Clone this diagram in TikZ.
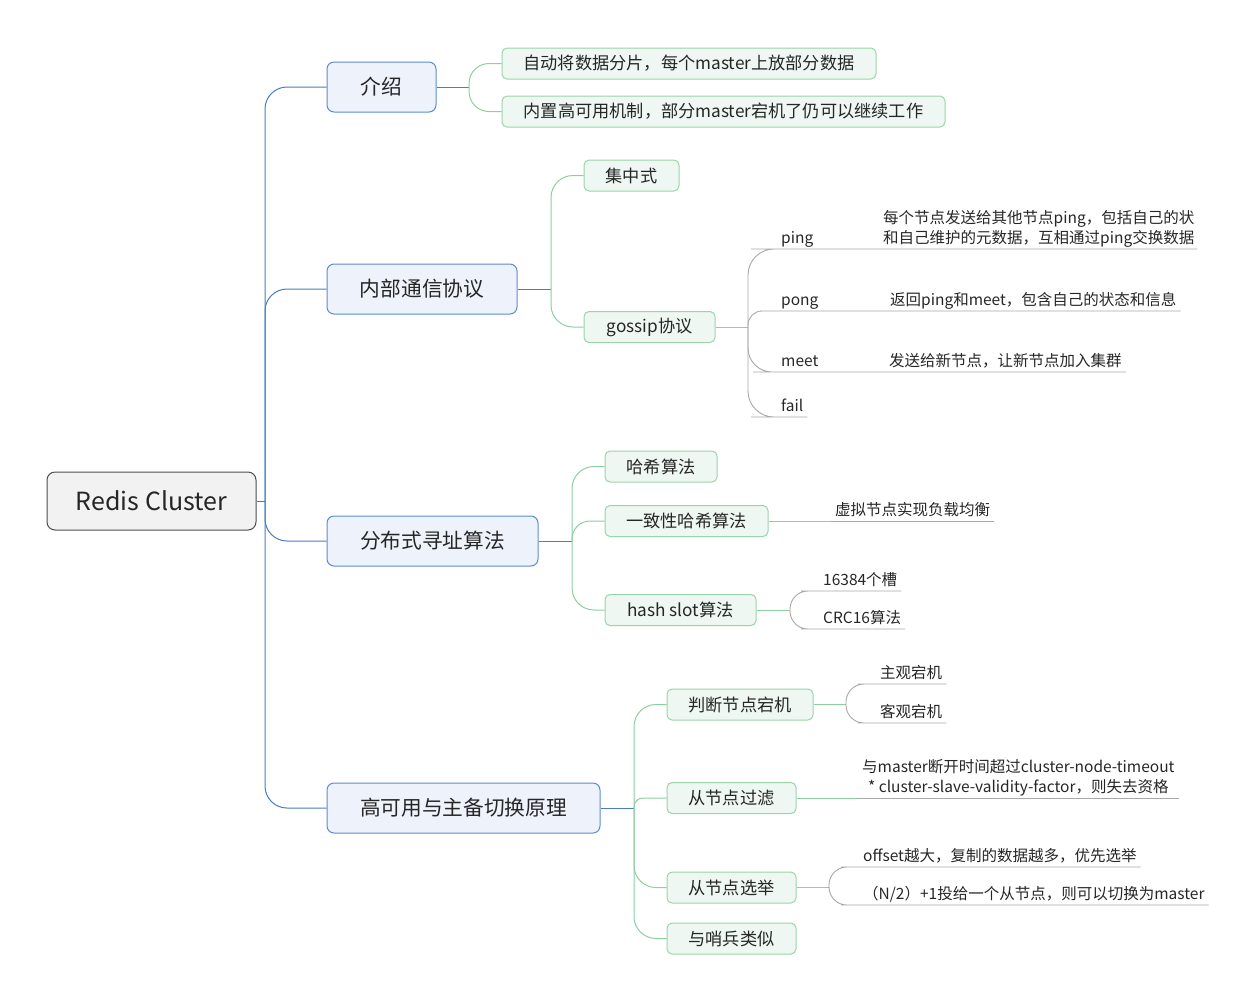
\documentclass[tikz,border=0pt]{standalone}
\usepackage{fontspec}
\setmainfont{Noto Sans CJK SC}
\definecolor{bline}{HTML}{4A7CC0}
\definecolor{bfill}{HTML}{EEF3FB}
\definecolor{bdraw}{HTML}{5B8BD0}
\definecolor{gline}{HTML}{8CCFA0}
\definecolor{gfill}{HTML}{EEF7F1}
\definecolor{gdraw}{HTML}{9AD5AA}
\definecolor{lline}{HTML}{A8A8A8}
\definecolor{rfill}{HTML}{F2F2F2}
\definecolor{rdraw}{HTML}{4D4D4D}
\definecolor{txt}{HTML}{262626}
\tikzset{
  rootbox/.style={draw=rdraw, fill=rfill, rounded corners=8pt, line width=1pt, minimum width=209pt, minimum height=58pt, font=\fontsize{25}{30}\selectfont, text=txt, inner sep=0pt},
  lonebox/.style={draw=bdraw, fill=bfill, rounded corners=7pt, line width=1pt, minimum height=50pt, font=\fontsize{20.7}{24}\selectfont, text=txt, inner sep=0pt},
  ltwobox/.style={draw=gdraw, fill=gfill, rounded corners=5pt, line width=1pt, minimum height=31pt, font=\fontsize{17.2}{20}\selectfont, text=txt, inner sep=0pt},
  leaf/.style={anchor=south west, inner xsep=4pt, inner ysep=3pt, text depth=2pt, font=\fontsize{15.5}{20}\selectfont, text=txt},
  bconn/.style={draw=bline, line width=1pt},
  gconn/.style={draw=gline, line width=1pt},
  lconn/.style={draw=lline, line width=0.9pt}
}
\begin{document}
\begin{tikzpicture}[x=1pt,y=-1pt]
\path[use as bounding box] (0,0) rectangle (1259,1002);

% root and level 1
\node[rootbox] (root) at (151.5,501) {Redis Cluster};
\node[lonebox, minimum width=109pt] (intro) at (381.5,87) {介绍};
\node[lonebox, minimum width=190pt] (comm) at (422,289) {内部通信协议};
\node[lonebox, minimum width=211pt] (dist) at (432.5,541) {分布式寻址算法};
\node[lonebox, minimum width=273pt] (ha) at (463.5,808) {高可用与主备切换原理};

% intro children
\node[ltwobox, minimum width=374pt] (i1) at (689,63.5) {自动将数据分片，每个master上放部分数据};
\node[ltwobox, minimum width=443pt] (i2) at (723.5,111.5) {内置高可用机制，部分master宕机了仍可以继续工作};

% comm children
\node[ltwobox, minimum width=95pt] (c1) at (631.5,175.5) {集中式};
\node[ltwobox, minimum width=131pt] (c2) at (649.5,327) {gossip协议};

% gossip leaves
\node[leaf, text width=98pt] (ping) at (777,249) {ping};
\node[leaf, align=left, inner xsep=3pt] (pingd) at (880,249) {每个节点发送给其他节点ping，包括自己的状\\和自己维护的元数据，互相通过ping交换数据};
\node[leaf, text width=101pt] (pong) at (777,311) {pong};
\node[leaf] (pongd) at (886,311) {返回ping和meet，包含自己的状态和信息};
\node[leaf, text width=100pt] (meet) at (777,372) {meet};
\node[leaf] (meetd) at (885,372) {发送给新节点，让新节点加入集群};
\node[leaf] (fail) at (777,417) {fail};

% dist children
\node[ltwobox, minimum width=112pt] (d1) at (661,466.5) {哈希算法};
\node[ltwobox, minimum width=163pt] (d2) at (686.5,521) {一致性哈希算法};
\node[ltwobox, minimum width=151pt] (d3) at (680.5,610) {hash slot算法};
\node[leaf] (d2x) at (831,521) {虚拟节点实现负载均衡};
\node[leaf] (s1) at (819,591) {16384个槽};
\node[leaf] (s2) at (819,629) {CRC16算法};

% ha children
\node[ltwobox, minimum width=146pt] (h1) at (740,704.5) {判断节点宕机};
\node[ltwobox, minimum width=129pt] (h2) at (731.5,798) {从节点过滤};
\node[ltwobox, minimum width=129pt] (h3) at (731.5,887.5) {从节点选举};
\node[ltwobox, minimum width=129pt] (h4) at (731.5,938.5) {与哨兵类似};
\node[leaf] (j1) at (876,684) {主观宕机};
\node[leaf] (j2) at (876,723) {客观宕机};
\node[leaf, align=center] (h2x) at (858,798) {与master断开时间超过cluster-node-timeout\\* cluster-slave-validity-factor，则失去资格};
\node[leaf] (x1) at (859,867) {offset越大，复制的数据越多，优先选举};
\node[leaf] (x2) at (859,905) {（N/2）+1投给一个从节点，则可以切换为master};

% trunk coordinates
\coordinate (tr) at (265,501);
\coordinate (ti) at (469,87);
\coordinate (tc) at (551,289);
\coordinate (tg) at (748,327);
\coordinate (td) at (572,541);
\coordinate (ts) at (790,610);
\coordinate (th) at (634,808);
\coordinate (tj) at (846,704.5);
\coordinate (tx) at (829,887.5);

% root connectors
\draw[bconn] (root.east) -- (tr);
\foreach \c in {intro,comm,dist,ha} \draw[bconn, rounded corners=22pt] (tr) |- (\c.west);

% intro connectors
\draw[bconn] (intro.east) -- (ti);
\foreach \c in {i1,i2} \draw[gconn, rounded corners=20pt] (ti) |- (\c.west);

% comm connectors
\draw[bconn] (comm.east) -- (tc);
\foreach \c in {c1,c2} \draw[gconn, rounded corners=22pt] (tc) |- (\c.west);

% gossip connectors
\draw[gconn] (c2.east) -- (tg);
\draw[lconn, rounded corners=26pt] (tg) |- (ping.south west) -- (ping.south east) -- (pingd.south west) -- (pingd.south east);
\draw[lconn, rounded corners=14pt] (tg) |- (pong.south west) -- (pong.south east) -- (pongd.south west) -- (pongd.south east);
\draw[lconn, rounded corners=24pt] (tg) |- (meet.south west) -- (meet.south east) -- (meetd.south west) -- (meetd.south east);
\draw[lconn, rounded corners=26pt] (tg) |- (fail.south west) -- (fail.south east);

% dist connectors
\draw[bconn] (dist.east) -- (td);
\draw[gconn, rounded corners=22pt] (td) |- (d1.west);
\draw[gconn, rounded corners=18pt] (td) |- (d2.west);
\draw[gconn, rounded corners=22pt] (td) |- (d3.west);
\draw[gconn] (d2.east) -- (d2x.south west);
\draw[lconn] (d2x.south west) -- (d2x.south east);
\draw[gconn] (d3.east) -- (ts);
\draw[lconn, rounded corners=18pt] (ts) |- (s1.south west) -- (s1.south east);
\draw[lconn, rounded corners=18pt] (ts) |- (s2.south west) -- (s2.south east);

% ha connectors
\draw[bconn] (ha.east) -- (th);
\draw[gconn, rounded corners=22pt] (th) |- (h1.west);
\draw[gconn, rounded corners=9pt] (th) |- (h2.west);
\draw[gconn, rounded corners=22pt] (th) |- (h3.west);
\draw[gconn, rounded corners=22pt] (th) |- (h4.west);
\draw[gconn] (h1.east) -- (tj);
\draw[lconn, rounded corners=18pt] (tj) |- (j1.south west) -- (j1.south east);
\draw[lconn, rounded corners=18pt] (tj) |- (j2.south west) -- (j2.south east);
\draw[gconn] (h2.east) -- (h2x.south west);
\draw[lconn] (h2x.south west) -- (h2x.south east);
\draw[gconn] (h3.east) -- (tx);
\draw[lconn, rounded corners=18pt] (tx) |- (x1.south west) -- (x1.south east);
\draw[lconn, rounded corners=18pt] (tx) |- (x2.south west) -- (x2.south east);
\end{tikzpicture}
\end{document}
